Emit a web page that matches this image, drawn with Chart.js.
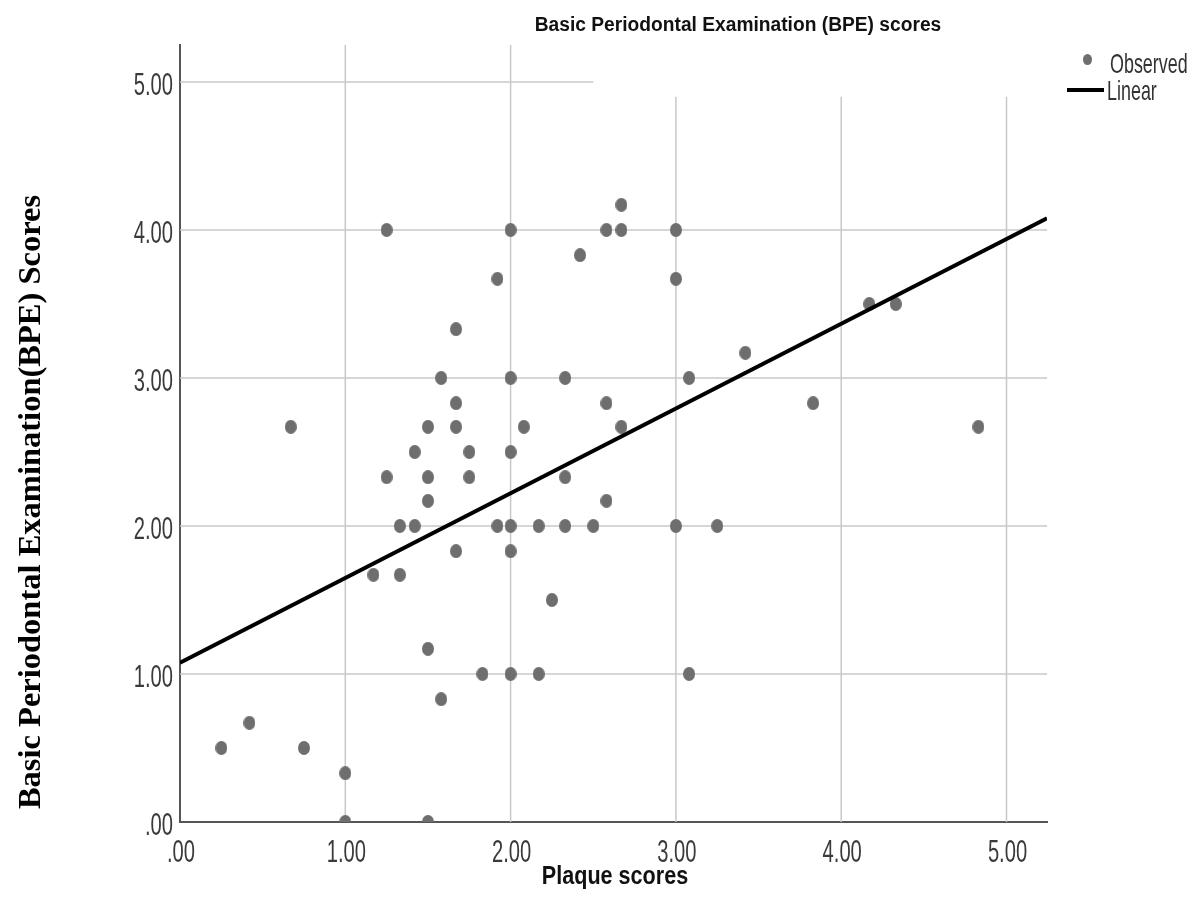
<!DOCTYPE html>
<html>
<head>
<meta charset="utf-8">
<script src="https://cdn.jsdelivr.net/npm/chart.js@4/dist/chart.umd.min.js"></script>
<style>
  body { margin: 0; background: #fff; }
  #wrap { width: 1194px; height: 920px; position: relative; }
</style>
</head>
<body>
<div id="wrap"><canvas id="chart"></canvas></div>
<script>
// plaque score (x) and BPE score (y) for each patient
const plaque = [
  0.25, 0.42, 0.67, 0.75, 1.00, 1.00, 1.17, 1.25, 1.25, 1.33,
  1.33, 1.42, 1.42, 1.50, 1.50, 1.50, 1.50, 1.50, 1.58, 1.58,
  1.67, 1.67, 1.67, 1.67, 1.75, 1.75, 1.83, 1.92, 1.92, 2.00,
  2.00, 2.00, 2.00, 2.00, 2.00, 2.08, 2.17, 2.17, 2.25, 2.33,
  2.33, 2.33, 2.42, 2.50, 2.58, 2.58, 2.58, 2.67, 2.67, 2.67,
  3.00, 3.00, 3.00, 3.08, 3.08, 3.25, 3.42, 3.83, 4.17, 4.33,
  4.83
];
const bpe = [
  0.50, 0.67, 2.67, 0.50, 0.33, 0.00, 1.67, 4.00, 2.33, 2.00,
  1.67, 2.00, 2.50, 2.67, 2.33, 2.17, 1.17, 0.00, 3.00, 0.83,
  3.33, 2.83, 2.67, 1.83, 2.50, 2.33, 1.00, 3.67, 2.00, 4.00,
  3.00, 2.50, 2.00, 1.83, 1.00, 2.67, 2.00, 1.00, 1.50, 3.00,
  2.33, 2.00, 3.83, 2.00, 4.00, 2.83, 2.17, 4.17, 4.00, 2.67,
  4.00, 3.67, 2.00, 3.00, 1.00, 2.00, 3.17, 2.83, 3.50, 3.50,
  2.67
];

// ends of the fitted linear line
const fitX = [0, 5.245];
const fitY = [1.076, 4.08];

const xTicks = [0, 1, 2, 3, 4, 5];
const yTicks = [0, 1, 2, 3, 4, 5];

const sans = "'Liberation Sans', Arial, sans-serif";
const dotColor = '#6e6e6e';

function fmt(v) {
  return v === 0 ? '.00' : v.toFixed(2);
}

function makeDot(w, h) {
  const c = document.createElement('canvas');
  c.width = w;
  c.height = h;
  const g = c.getContext('2d');
  g.fillStyle = dotColor;
  g.beginPath();
  g.ellipse(w / 2, h / 2, w / 2, h / 2, 0, 0, Math.PI * 2);
  g.fill();
  return c;
}

const dot = makeDot(12, 14);

// the SPSS font is narrow, so squeeze the text sideways
function squeezed(ctx, text, x, y, font, sx, align, color) {
  ctx.save();
  ctx.translate(x, y);
  ctx.scale(sx, 1);
  ctx.font = font;
  ctx.textAlign = align;
  ctx.textBaseline = 'alphabetic';
  ctx.fillStyle = color;
  ctx.fillText(text, 0, 0);
  ctx.restore();
}

// SPSS style grid: some lines are cut short where title/legend sit
const gridPlugin = {
  id: 'spssGrid',
  beforeDatasetsDraw(chart) {
    const {ctx, chartArea, scales: {x, y}} = chart;
    ctx.save();
    ctx.strokeStyle = '#c8c8c8';
    ctx.lineWidth = 1.5;
    yTicks.forEach(v => {
      if (v === 0) return;
      const py = y.getPixelForValue(v);
      const end = v >= 5 ? x.getPixelForValue(2.5) : chartArea.right;
      ctx.beginPath();
      ctx.moveTo(chartArea.left, py);
      ctx.lineTo(end, py);
      ctx.stroke();
    });
    xTicks.forEach(v => {
      if (v === 0) return;
      const px = x.getPixelForValue(v);
      const top = v > 2.5 ? y.getPixelForValue(4.9) : chartArea.top;
      ctx.beginPath();
      ctx.moveTo(px, chartArea.bottom);
      ctx.lineTo(px, top);
      ctx.stroke();
    });
    ctx.restore();
  }
};

const textPlugin = {
  id: 'texts',
  afterDraw(chart) {
    const {ctx, chartArea, scales: {x, y}} = chart;
    const tickFont = '32px ' + sans;

    yTicks.forEach(v => {
      squeezed(ctx, fmt(v), chartArea.left - 7, y.getPixelForValue(v) + 13,
        tickFont, 0.63, 'right', '#3a3a3a');
    });
    xTicks.forEach(v => {
      squeezed(ctx, fmt(v), x.getPixelForValue(v) + 1, chartArea.bottom + 40,
        tickFont, 0.63, 'center', '#3a3a3a');
    });

    squeezed(ctx, 'Basic Periodontal Examination (BPE) scores', 738, 31,
      'bold 20px ' + sans, 0.96, 'center', '#111');
    squeezed(ctx, 'Plaque scores', 615, 884,
      'bold 26px ' + sans, 0.83, 'center', '#111');

    ctx.save();
    ctx.translate(40, 502);
    ctx.rotate(-Math.PI / 2);
    ctx.font = "bold 32.5px 'Liberation Serif', 'Times New Roman', serif";
    ctx.fillStyle = '#000';
    ctx.textAlign = 'center';
    ctx.textBaseline = 'alphabetic';
    ctx.fillText('Basic Periodontal Examination(BPE) Scores', 0, 0);
    ctx.restore();

    // legend
    ctx.drawImage(makeDot(9, 11), 1083, 54);
    squeezed(ctx, 'Observed', 1110, 73, '28px ' + sans, 0.64, 'left', '#333');
    squeezed(ctx, 'Linear', 1107, 100, '28px ' + sans, 0.64, 'left', '#333');
    ctx.save();
    ctx.strokeStyle = '#000';
    ctx.lineWidth = 4;
    ctx.beginPath();
    ctx.moveTo(1067, 90);
    ctx.lineTo(1104, 90);
    ctx.stroke();
    ctx.restore();
  }
};

const points = plaque.map((p, i) => ({x: p, y: bpe[i]}));
const fitLine = fitX.map((p, i) => ({x: p, y: fitY[i]}));

const config = {
  type: 'scatter',
  data: {
    datasets: [
      {
        label: 'Observed',
        data: points,
        pointStyle: dot,
        pointRadius: 6,
        pointHoverRadius: 6,
        backgroundColor: dotColor,
        borderColor: dotColor,
        clip: 0,
        order: 1
      },
      {
        type: 'line',
        label: 'Linear',
        data: fitLine,
        borderColor: '#000',
        borderWidth: 4,
        pointRadius: 0,
        fill: false,
        clip: 0,
        order: 0
      }
    ]
  },
  options: {
    responsive: true,
    maintainAspectRatio: false,
    animation: false,
    layout: {
      padding: {left: 0, top: 45, right: 147, bottom: 0}
    },
    plugins: {
      legend: {display: false},
      title: {display: false},
      tooltip: {enabled: false}
    },
    scales: {
      x: {
        type: 'linear',
        min: 0,
        max: 5.245,
        afterFit: s => { s.height = 98; },
        grid: {display: false},
        border: {display: true, color: '#555', width: 2},
        ticks: {stepSize: 1, includeBounds: false, display: false}
      },
      y: {
        type: 'linear',
        min: 0,
        max: 5.25,
        afterFit: s => { s.width = 180; },
        grid: {display: false},
        border: {display: true, color: '#555', width: 2},
        ticks: {stepSize: 1, includeBounds: false, display: false}
      }
    }
  },
  plugins: [gridPlugin, textPlugin]
};

const myChart = new Chart(document.getElementById('chart'), config);
</script>
</body>
</html>
